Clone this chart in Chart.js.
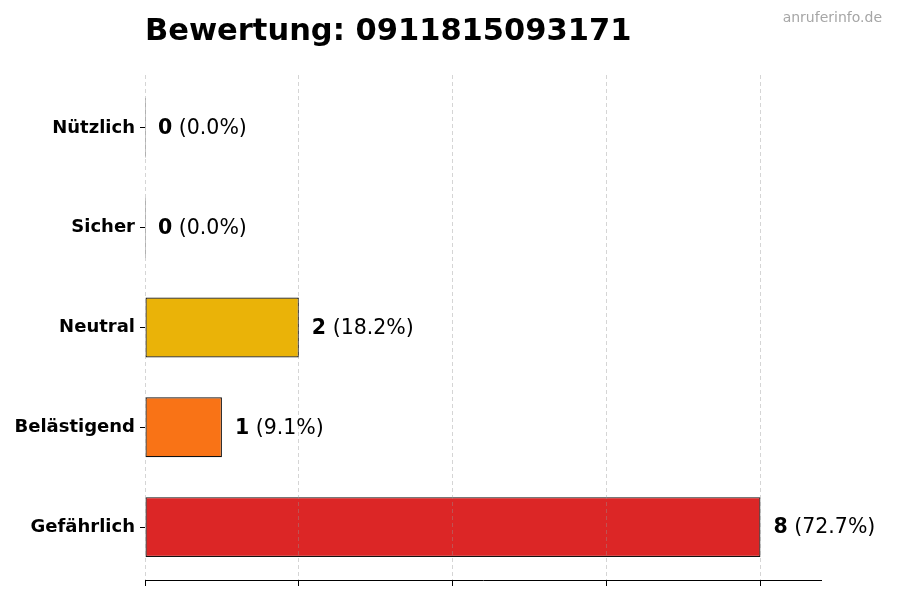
<!DOCTYPE html>
<html lang="de">
<head>
  <meta charset="UTF-8" />
  <title>Bewertung: 0911815093171</title>
  <script src="https://cdn.jsdelivr.net/npm/chart.js"></script>
  <style>
    html, body { margin: 0; padding: 0; background: #fff; }
    #wrap { width: 900px; height: 600px; position: relative; }
  </style>
</head>
<body>
  <div id="wrap"><canvas id="ratingChart"></canvas></div>

  <script>
    // Data (top to bottom)
    const categories = ['Nützlich', 'Sicher', 'Neutral', 'Belästigend', 'Gefährlich'];
    const counts = [0, 0, 2, 1, 8];
    const barColors = ['#22c55e', '#3b82f6', '#eab308', '#f97316', '#dc2626'];
    const xTicks = [0, 2, 4, 6, 8];
    const titleText = 'Bewertung: 0911815093171';
    const watermark = 'anruferinfo.de';

    const FONT = '"DejaVu Sans", Verdana, sans-serif';
    const total = counts.reduce((a, b) => a + b, 0);

    // title, watermark, bottom spine and value labels
    const textPlugin = {
      id: 'textPlugin',
      afterDraw(chart) {
        const ctx = chart.ctx;
        const area = chart.chartArea;
        const xs = chart.scales.x;
        const ys = chart.scales.y;
        ctx.save();

        // bottom spine
        ctx.strokeStyle = '#000';
        ctx.lineWidth = 1;
        ctx.beginPath();
        ctx.moveTo(area.left, area.bottom + 0.5);
        ctx.lineTo(area.right, area.bottom + 0.5);
        ctx.stroke();

        ctx.fillStyle = '#000';
        ctx.font = 'bold 30.5px ' + FONT;
        ctx.textAlign = 'left';
        ctx.textBaseline = 'alphabetic';
        ctx.fillText(titleText, area.left, 40);

        ctx.fillStyle = '#a6a6a6';
        ctx.font = '14px ' + FONT;
        ctx.textAlign = 'right';
        ctx.fillText(watermark, 882, 22);

        ctx.textAlign = 'left';
        ctx.textBaseline = 'middle';
        counts.forEach((v, i) => {
          const x = xs.getPixelForValue(v) + 13;
          const y = ys.getPixelForValue(i) + 1;
          const pct = total ? (v / total * 100).toFixed(1) : '0.0';
          ctx.fillStyle = '#000';
          ctx.font = 'bold 20.5px ' + FONT;
          const num = String(v);
          ctx.fillText(num, x, y);
          const w = ctx.measureText(num).width;
          ctx.font = '20.5px ' + FONT;
          ctx.fillText(' (' + pct + '%)', x + w, y);
        });
        ctx.restore();
      }
    };

    const points = counts.map((v, i) => ({ x: v, y: i }));

    const ctx = document.getElementById('ratingChart').getContext('2d');
    new Chart(ctx, {
      type: 'bar',
      data: {
        datasets: [{
          data: points,
          backgroundColor: barColors,
          borderColor: '#111',
          borderWidth: 1.2,
          borderSkipped: false,
          minBarLength: 1,
          barPercentage: 0.6,
          categoryPercentage: 1.0
        }]
      },
      options: {
        indexAxis: 'y',
        responsive: true,
        maintainAspectRatio: false,
        animation: false,
        layout: { padding: { top: 75, right: 78, left: 0, bottom: 0 } },
        plugins: {
          legend: { display: false },
          tooltip: { enabled: false }
        },
        scales: {
          x: {
            type: 'linear',
            min: 0,
            max: 8.8,
            afterBuildTicks(scale) {
              scale.ticks = xTicks.map(v => ({ value: v }));
            },
            afterFit(scale) { scale.height = 20; },
            ticks: { display: false },
            grid: {
              z: 1,
              color: 'rgba(150,150,150,0.4)',
              lineWidth: 1,
              drawTicks: true,
              tickLength: 6,
              tickColor: '#000',
              tickBorderDash: [],
              tickWidth: 1
            },
            border: { display: false, dash: [4, 3] }
          },
          y: {
            type: 'linear',
            reverse: true,
            offset: false,
            min: -0.53,
            max: 4.53,
            afterBuildTicks(scale) {
              scale.ticks = categories.map((c, i) => ({ value: i }));
            },
            afterFit(scale) { scale.width = 145; },
            ticks: {
              color: '#000',
              padding: 5,
              font: { family: FONT, size: 18, weight: 'bold' },
              callback: (v) => categories[v]
            },
            grid: {
              offset: false,
              drawOnChartArea: false,
              drawTicks: true,
              tickLength: 5,
              tickColor: '#000',
              tickWidth: 1
            },
            border: { display: false }
          }
        }
      },
      plugins: [textPlugin]
    });
  </script>
</body>
</html>
